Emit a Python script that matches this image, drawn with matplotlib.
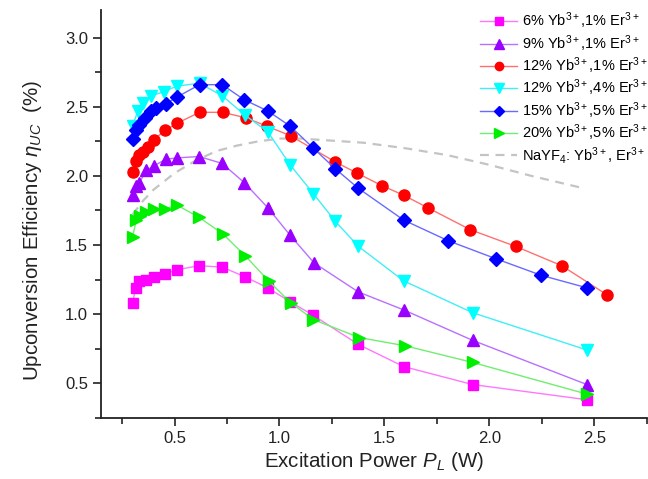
import matplotlib
matplotlib.use("Agg")
import matplotlib.pyplot as plt
from matplotlib.ticker import MultipleLocator

plt.rcParams['font.family'] = ['Liberation Sans', 'DejaVu Sans']
plt.rcParams['mathtext.fontset'] = 'custom'
plt.rcParams['mathtext.rm'] = 'Liberation Sans'
plt.rcParams['mathtext.it'] = 'Liberation Sans:italic'

# 6% Yb, 1% Er
x_6_1 = [0.30, 0.315, 0.333, 0.365, 0.40, 0.455, 0.51, 0.615, 0.727, 0.835, 0.944, 1.05, 1.162, 1.376, 1.592, 1.92, 2.465]
y_6_1 = [1.08, 1.19, 1.24, 1.25, 1.27, 1.29, 1.32, 1.35, 1.34, 1.27, 1.19, 1.09, 0.99, 0.78, 0.62, 0.49, 0.38]

# 9% Yb, 1% Er
x_9_1 = [0.30, 0.318, 0.333, 0.365, 0.40, 0.457, 0.511, 0.617, 0.727, 0.833, 0.944, 1.051, 1.165, 1.376, 1.592, 1.92, 2.465]
y_9_1 = [1.86, 1.93, 1.95, 2.04, 2.07, 2.12, 2.13, 2.14, 2.09, 1.95, 1.77, 1.57, 1.37, 1.16, 1.03, 0.81, 0.49]

# 12% Yb, 1% Er
x_12_1 = [0.30, 0.318, 0.330, 0.348, 0.372, 0.40, 0.455, 0.511, 0.619, 0.73, 0.84, 0.94, 1.053,
          1.267, 1.37, 1.487, 1.592, 1.706, 1.91, 2.125, 2.345, 2.56]
y_12_1 = [2.03, 2.11, 2.15, 2.17, 2.21, 2.26, 2.33, 2.38, 2.46, 2.46, 2.42, 2.36, 2.29,
          2.10, 2.02, 1.93, 1.86, 1.77, 1.61, 1.49, 1.35, 1.14]

# 12% Yb, 4% Er
x_12_4 = [0.30, 0.325, 0.349, 0.389, 0.452, 0.511, 0.619, 0.727, 0.835, 0.944, 1.051, 1.162, 1.267, 1.376, 1.592, 1.92, 2.465]
y_12_4 = [2.36, 2.47, 2.53, 2.58, 2.61, 2.65, 2.67, 2.58, 2.44, 2.32, 2.08, 1.87, 1.67, 1.49, 1.24, 1.01, 0.74]

# 15% Yb, 5% Er
x_15_5 = [0.30, 0.318, 0.333, 0.357, 0.389, 0.413, 0.457, 0.511, 0.619, 0.727, 0.833, 0.944, 1.051,
          1.162, 1.267, 1.376, 1.592, 1.805, 2.032, 2.248, 2.465]
y_15_5 = [2.27, 2.33, 2.37, 2.42, 2.47, 2.49, 2.52, 2.57, 2.66, 2.66, 2.55, 2.47, 2.36,
          2.20, 2.05, 1.91, 1.68, 1.53, 1.40, 1.28, 1.19]

# 20% Yb, 5% Er
x_20_5 = [0.30, 0.318, 0.335, 0.365, 0.40, 0.455, 0.51, 0.617, 0.73, 0.838, 0.948, 1.055, 1.162, 1.38, 1.60, 1.92, 2.467]
y_20_5 = [1.56, 1.68, 1.71, 1.74, 1.76, 1.76, 1.79, 1.70, 1.58, 1.42, 1.24, 1.08, 0.96, 0.83, 0.77, 0.65, 0.42]

# NaYF4: Yb, Er reference
x_ref = [0.30, 0.35, 0.40, 0.50, 0.60, 0.70, 0.80, 0.90, 1.00, 1.10, 1.20, 1.40, 1.60, 1.80, 2.00, 2.20, 2.45]
y_ref = [1.72, 1.82, 1.90, 2.02, 2.11, 2.18, 2.22, 2.25, 2.27, 2.27, 2.26, 2.24, 2.20, 2.15, 2.08, 2.00, 1.91]

series = [
    (x_6_1, y_6_1, 's', '#ff00ff', '#ff77ff', 7.2, '6% Yb$^{3+}$,1% Er$^{3+}$'),
    (x_9_1, y_9_1, '^', '#9900ff', '#b870ff', 9, '9% Yb$^{3+}$,1% Er$^{3+}$'),
    (x_12_1, y_12_1, 'o', '#ff0000', '#ff7070', 8, '12% Yb$^{3+}$,1% Er$^{3+}$'),
    (x_12_4, y_12_4, 'v', '#00ffff', '#40eef8', 9, '12% Yb$^{3+}$,4% Er$^{3+}$'),
    (x_15_5, y_15_5, 'D', '#0000ff', '#6a6aff', 7, '15% Yb$^{3+}$,5% Er$^{3+}$'),
    (x_20_5, y_20_5, '>', '#00ee00', '#70ee70', 9, '20% Yb$^{3+}$,5% Er$^{3+}$'),
]

fig = plt.figure(figsize=(6.48, 4.79), dpi=100)
ax = fig.add_axes([0.156, 0.128, 0.842, 0.851])

ax.plot(x_ref, y_ref, color='#c4c4c4', lw=1.6, dashes=(4, 3), zorder=1.5,
        label='NaYF$_4$: Yb$^{3+}$, Er$^{3+}$')

for xs, ys, mk, mc, lc, ms, lab in series:
    ax.plot(xs, ys, color=lc, lw=1.0, marker=mk, ms=ms,
            markerfacecolor=mc, markeredgecolor=mc, label=lab)

ax.set_xlim(0.15, 2.75)
ax.set_ylim(0.25, 3.2)
ax.xaxis.set_major_locator(MultipleLocator(0.5))
ax.xaxis.set_minor_locator(MultipleLocator(0.25))
ax.yaxis.set_major_locator(MultipleLocator(0.5))
ax.yaxis.set_minor_locator(MultipleLocator(0.25))
ax.xaxis.set_major_formatter(plt.FormatStrFormatter('%.1f'))
ax.yaxis.set_major_formatter(plt.FormatStrFormatter('%.1f'))

for s in ['top', 'right']:
    ax.spines[s].set_visible(False)
for s in ['left', 'bottom']:
    ax.spines[s].set_linewidth(1.3)
    ax.spines[s].set_color('#222222')

ax.tick_params(which='major', direction='out', length=6, width=1.2, labelsize=12, colors='#222222')
ax.tick_params(which='minor', direction='out', length=4, width=1.2, colors='#222222')

ax.set_xlabel('Excitation Power $P_L$ (W)', fontsize=14.8, color='#222222', labelpad=3)
ax.set_ylabel(r'Upconversion Efficiency $\eta_{UC}$  (%)', fontsize=14.8, color='#222222', labelpad=6)
ax.yaxis.set_label_coords(-0.105, 0.46)

# legend order: coloured series first, reference curve last
handles, labels = ax.get_legend_handles_labels()
handles = handles[1:] + handles[:1]
labels = labels[1:] + labels[:1]
ax.legend(handles, labels, loc='upper right', bbox_to_anchor=(1.018, 1.02), frameon=False,
          fontsize=10.5, handlelength=2.5, handletextpad=0.35, labelspacing=0.12,
          borderaxespad=0.2, markerscale=0.75)

fig.savefig('out.png', dpi=100)
